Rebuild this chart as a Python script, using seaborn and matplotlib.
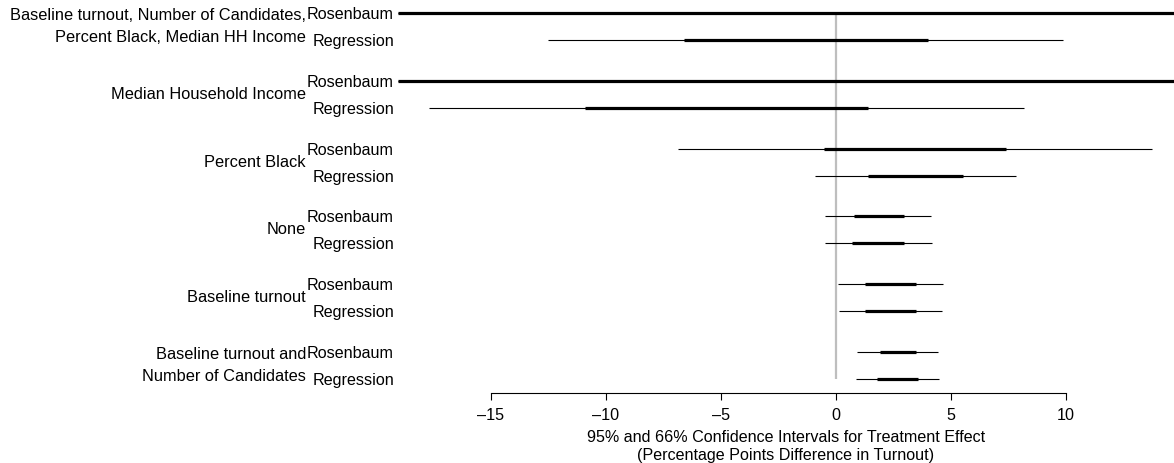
import numpy as np
import pandas as pd
import matplotlib
matplotlib.use("Agg")
import matplotlib.pyplot as plt
import seaborn as sns
from matplotlib.transforms import offset_copy

# ---------------- data ----------------
groups = [
    "Baseline turnout, Number of Candidates,\nPercent Black, Median HH Income",
    "Median Household Income",
    "Percent Black",
    "None",
    "Baseline turnout",
    "Baseline turnout and\nNumber of Candidates",
]
methods = ["Rosenbaum", "Regression"]

ros_lo95 = [-np.inf, -np.inf, -6.87, -0.48, 0.10, 0.92]
ros_lo66 = [-np.inf, -np.inf, -0.50, 0.80, 1.28, 1.91]
ros_hi66 = [np.inf, np.inf, 7.37, 2.97, 3.48, 3.48]
ros_hi95 = [np.inf, np.inf, 13.74, 4.15, 4.65, 4.44]

reg_lo95 = [-12.50, -17.71, -0.92, -0.48, 0.15, 0.88]
reg_lo66 = [-6.60, -10.93, 1.38, 0.71, 1.28, 1.78]
reg_hi66 = [4.00, 1.38, 5.53, 2.97, 3.48, 3.58]
reg_hi95 = [9.88, 8.17, 7.81, 4.19, 4.61, 4.46]

xticks = [-15, -10, -5, 0, 5, 10]
xlabel = "95% and 66% Confidence Intervals for Treatment Effect\n(Percentage Points Difference in Turnout)"

# ---------------- style ----------------
sns.set_style("white")
plt.rcParams["font.family"] = ["Liberation Sans", "DejaVu Sans"]
for k in ["text.color", "axes.labelcolor", "xtick.color", "ytick.color"]:
    plt.rcParams[k] = "black"

W, H = 1174, 463
fig = plt.figure(figsize=(W / 100, H / 100), dpi=100)
ax = fig.add_axes([398 / W, (H - 379) / H, 776 / W, 366 / H])
XLIM = (-19.043, 14.696)

# ---------------- layout of rows ----------------
GAP = 2.5
rows = []
for g, name in enumerate(groups):
    c = g * GAP
    for m, meth, lo95, lo66, hi66, hi95 in [
        (0, "Rosenbaum", ros_lo95, ros_lo66, ros_hi66, ros_hi95),
        (1, "Regression", reg_lo95, reg_lo66, reg_hi66, reg_hi95),
    ]:
        y = c - 0.5 + m
        rows.append(dict(row=f"{g}-{m}", y=y, method=meth,
                         lo95=lo95[g], lo66=lo66[g], hi66=hi66[g], hi95=hi95[g]))
df = pd.DataFrame(rows)

def seg(df, lo, hi):
    a = df[["row", "y"]].assign(x=df[lo].clip(*XLIM))
    b = df[["row", "y"]].assign(x=df[hi].clip(*XLIM))
    return pd.concat([a, b]).sort_values(["row", "x"]).reset_index(drop=True)

ymin, ymax = df["y"].min(), df["y"].max()
ax.plot([0, 0], [ymin, ymax], color="#bebebe", lw=1.6, zorder=1, clip_on=False)

sns.lineplot(data=seg(df, "lo95", "hi95"), x="x", y="y", units="row",
             estimator=None, sort=False, color="black", lw=0.8, ax=ax,
             legend=False, zorder=2)
sns.lineplot(data=seg(df, "lo66", "hi66"), x="x", y="y", units="row",
             estimator=None, sort=False, color="black", lw=2.3, ax=ax,
             legend=False, zorder=3)
for ln in ax.lines:
    ln.set_clip_on(False)
    ln.set_solid_capstyle("butt")

ax.set_xlim(*XLIM)
ax.set_ylim(ymax, ymin)

# y labels: methods
ax.set_yticks(df["y"].tolist(), labels=df["method"].tolist())
ax.tick_params(axis="y", length=0, pad=2.9, labelsize=11.6)

# group labels
tr = offset_copy(ax.get_yaxis_transform(), fig=fig, x=-92, y=0, units="dots")
for g, name in enumerate(groups):
    ax.text(0, g * GAP, name, transform=tr, ha="right", va="center",
            fontsize=11.8, linespacing=1.55, multialignment="right")

# x axis R-style
for s in ["top", "right", "left"]:
    ax.spines[s].set_visible(False)
ax.spines["bottom"].set_position(("outward", 10.1))
ax.spines["bottom"].set_bounds(xticks[0], xticks[-1])
ax.spines["bottom"].set_color("black")
ax.spines["bottom"].set_linewidth(0.8)
ax.set_xticks(xticks)
ax.set_xticklabels([f"{t}".replace("-", "\u2013") for t in xticks])
ax.tick_params(axis="x", length=5, width=0.8, pad=6, labelsize=11.6, bottom=True)
ax.set_xlabel(xlabel, fontsize=11.6, labelpad=5, linespacing=1.25)
ax.set_ylabel("")

fig.savefig("out.png", dpi=100)
